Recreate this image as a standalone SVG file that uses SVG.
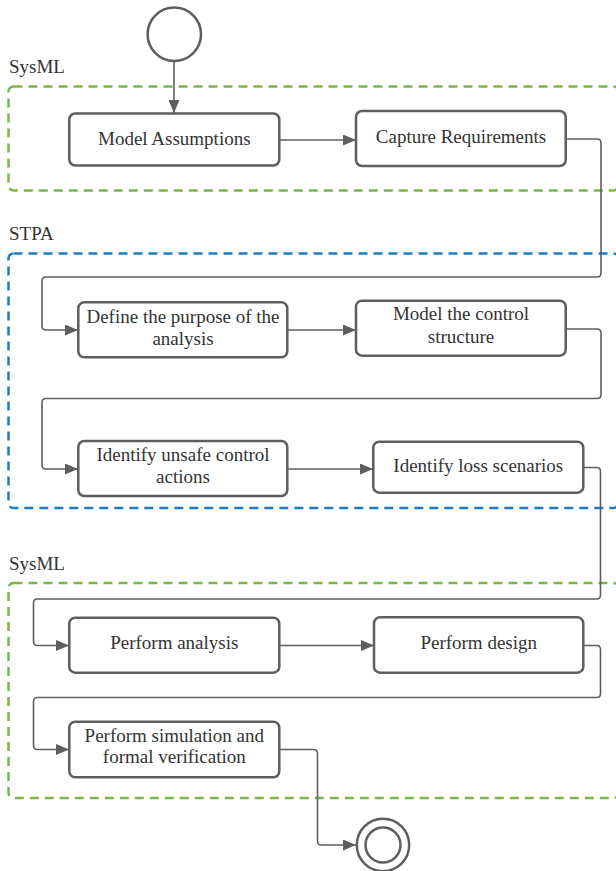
<svg xmlns="http://www.w3.org/2000/svg" width="616" height="871" viewBox="0 0 616 871">
<style>
.node{fill:#fff;stroke:#5e5e5e;stroke-width:2.5}
.t{font-family:"Liberation Serif","Times New Roman",serif;font-size:19px;fill:#333;text-anchor:middle}
.lbl{font-family:"Liberation Serif","Times New Roman",serif;font-size:19px;fill:#333}
.c{fill:none;stroke:#5e5e5e;stroke-width:1.6}
.grp{fill:none;stroke-width:2.5;stroke-dasharray:9 6}
</style>
<defs>
<marker id="arr" markerWidth="13" markerHeight="11" refX="13" refY="5.5" orient="auto" markerUnits="userSpaceOnUse">
<path d="M0,0 L13,5.5 L0,11 Z" fill="#5e5e5e"/>
</marker>
</defs>
<rect width="616" height="871" fill="#fff"/>
<g id="group-sysml-1">
<rect class="grp" x="8.5" y="86.5" width="610" height="104" rx="5" stroke="#7ab648"/>
<text class="lbl" x="9" y="72.5">SysML</text>
</g>
<g id="group-stpa">
<rect class="grp" x="8.5" y="253.5" width="610" height="254.5" rx="5" stroke="#1a7dc2"/>
<text class="lbl" x="9" y="239.5">STPA</text>
</g>
<g id="group-sysml-2">
<rect class="grp" x="8.5" y="583" width="610" height="215" rx="5" stroke="#7ab648"/>
<text class="lbl" x="9" y="569.5">SysML</text>
</g>
<g id="connectors">
<path class="c" d="M174,61 V113" marker-end="url(#arr)" stroke-width="2"/>
<path class="c" d="M279,140 H356" marker-end="url(#arr)" stroke-width="2"/>
<path class="c" d="M566,139 H597 Q601,139 601,143 V273 Q601,277 597,277 H46 Q42,277 42,281 V326 Q42,330 46,330 H78" marker-end="url(#arr)"/>
<path class="c" d="M287,330 H356" marker-end="url(#arr)"/>
<path class="c" d="M566,329 H597 Q601,329 601,333 V394.5 Q601,398.5 597,398.5 H46 Q42,398.5 42,402.5 V465 Q42,469 46,469 H78" marker-end="url(#arr)"/>
<path class="c" d="M287,469 H373" marker-end="url(#arr)"/>
<path class="c" d="M583,467.5 H596.5 Q600.5,467.5 600.5,471.5 V595 Q600.5,599 596.5,599 H37.5 Q33.5,599 33.5,603 V641.5 Q33.5,645.5 37.5,645.5 H69" marker-end="url(#arr)"/>
<path class="c" d="M279,645.5 H374" marker-end="url(#arr)"/>
<path class="c" d="M583,645.5 H596.5 Q600.5,645.5 600.5,649.5 V693.5 Q600.5,697.5 596.5,697.5 H37.5 Q33.5,697.5 33.5,701.5 V745.5 Q33.5,749.5 37.5,749.5 H69" marker-end="url(#arr)"/>
<path class="c" d="M279,749.5 H313.5 Q317.5,749.5 317.5,753.5 V841 Q317.5,845 321.5,845 H356" marker-end="url(#arr)"/>
</g>
<g id="start">
<circle cx="174.3" cy="34.2" r="26.7" fill="#fff" stroke="#5e5e5e" stroke-width="2.5"/>
</g>
<g id="model-assumptions">
<rect class="node" x="69.3" y="113.5" width="210" height="52" rx="6"/>
<text class="t" x="174.3" y="144.5">Model Assumptions</text>
</g>
<g id="capture-requirements">
<rect class="node" x="356" y="111" width="209.7" height="55" rx="6"/>
<text class="t" x="461" y="142.7">Capture Requirements</text>
</g>
<g id="define-purpose">
<rect class="node" x="78.3" y="302.3" width="209" height="55" rx="6"/>
<text class="t" x="183" y="322.7">Define the purpose of the</text>
<text class="t" x="183" y="345">analysis</text>
</g>
<g id="model-control-structure">
<rect class="node" x="356" y="300.7" width="209.7" height="55" rx="6"/>
<text class="t" x="461" y="320">Model the control</text>
<text class="t" x="461" y="343.3">structure</text>
</g>
<g id="identify-uca">
<rect class="node" x="78.3" y="441" width="209" height="55" rx="6"/>
<text class="t" x="183" y="461">Identify unsafe control</text>
<text class="t" x="183" y="483.3">actions</text>
</g>
<g id="identify-loss">
<rect class="node" x="373.3" y="441.7" width="210" height="51" rx="6"/>
<text class="t" x="478.3" y="471.7">Identify loss scenarios</text>
</g>
<g id="perform-analysis">
<rect class="node" x="69.3" y="617.7" width="210" height="55" rx="6"/>
<text class="t" x="174.3" y="649.3">Perform analysis</text>
</g>
<g id="perform-design">
<rect class="node" x="374" y="617.3" width="209.3" height="55.4" rx="6"/>
<text class="t" x="478.7" y="649">Perform design</text>
</g>
<g id="perform-simulation">
<rect class="node" x="69.3" y="721.7" width="210" height="55.6" rx="6"/>
<text class="t" x="174.3" y="741.7">Perform simulation and</text>
<text class="t" x="174.3" y="763.3">formal verification</text>
</g>
<g id="end">
<circle cx="383" cy="845" r="26.2" fill="#fff" stroke="#5e5e5e" stroke-width="2.5"/>
<circle cx="383" cy="845" r="17.5" fill="none" stroke="#5e5e5e" stroke-width="2.5"/>
</g>
</svg>
